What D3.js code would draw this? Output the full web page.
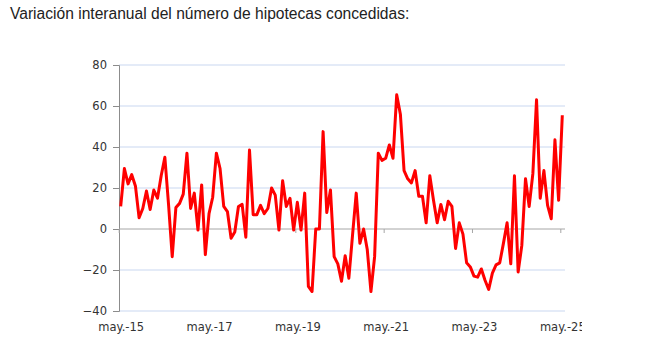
<!DOCTYPE html>
<html>
<head>
<meta charset="utf-8">
<script src="https://cdn.jsdelivr.net/npm/d3@7"></script>
<style>
  body { margin: 0; background: #fff; }
  .title { font-family: "Liberation Sans", Arial, sans-serif; font-size: 15.6px; fill: #222; }
  .tick text { font-family: "DejaVu Sans", Verdana, sans-serif; font-size: 11.5px; fill: #333; }
</style>
</head>
<body>
<svg id="chart" width="660" height="351"></svg>
<script>
// variación interanual (%) mensual, may.-15 .. may.-25
var values = [11, 29.5, 22, 26.5, 21, 5.5, 10, 18.5, 9.5, 19, 15, 26, 35, 12, -13.5, 10.5, 12.5, 17, 37, 10,
  17.5, -0.5, 21.5, -12.5, 7.5, 15.5, 37, 29.5, 11, 8.5, -4.5, -1.5, 11, 12, -4, 38.5, 7, 7, 11.5, 7.5,
  10, 20, 16.5, -0.5, 23.5, 11, 15, -0.5, 13, -0.5, 17.5, -28, -30.5, 0, 0, 47.5, 8, 19, -13.5, -17,
  -25.5, -13, -24, -3, 17.5, -7, 0, -10, -30.5, -13.5, 37, 33.5, 34.5, 41, 34.5, 65.5, 56, 28.5, 24.5, 22.5,
  28.5, 16, 16, 3, 26, 14, 3, 12, 4.5, 13.5, 11, -9.5, 3, -2.5, -16.5, -18.5, -23, -23.5, -19.5, -25,
  -29.5, -21.5, -17.5, -16.5, -7, 3, -17, 26, -21, -8, 24.5, 11, 27, 63, 15, 28.5, 11.5, 5, 43.5, 14, 55.5];
var tickIdx = [0, 24, 48, 72, 96, 120];
var tickLabels = ["may.-15", "may.-17", "may.-19", "may.-21", "may.-23", "may.-25"];
var yTicks = [-40, -20, 0, 20, 40, 60, 80];

var svg = d3.select("#chart");
var pLeft = 119, pRight = 565, pTop = 65, pBottom = 311;

svg.append("text").attr("class", "title")
    .attr("x", 10).attr("y", 19)
    .text("Variación interanual del número de hipotecas concedidas:");

var x = d3.scaleLinear().domain([0, values.length - 1]).range([120.7, 562.3]);
var y = d3.scaleLinear().domain([-40, 80]).range([pBottom, pTop]);

// gridlines
svg.append("g").selectAll("line")
    .data(yTicks.filter(d => d != 0))
    .enter().append("line")
    .attr("x1", pLeft).attr("x2", pRight)
    .attr("y1", d => y(d)).attr("y2", d => y(d))
    .attr("stroke", "#c9d7f0").attr("stroke-width", 1);

// y axis
var yAxis = svg.append("g")
    .attr("transform", "translate(" + pLeft + ",0)")
    .call(d3.axisLeft(y).tickValues(yTicks).tickSize(6).tickPadding(6));
yAxis.select(".domain").attr("stroke", "#8c8c8c");
yAxis.selectAll(".tick line").attr("stroke", "#8c8c8c");

// zero line with ticks
svg.append("line")
    .attr("x1", pLeft).attr("x2", pRight)
    .attr("y1", y(0)).attr("y2", y(0))
    .attr("stroke", "#a6a6a6").attr("stroke-width", 1);
svg.append("g").selectAll("line")
    .data(tickIdx)
    .enter().append("line")
    .attr("x1", d => x(d) - 1.5).attr("x2", d => x(d) - 1.5)
    .attr("y1", y(0)).attr("y2", y(0) + 4)
    .attr("stroke", "#a6a6a6");

// x labels (clipped at right like the original)
svg.append("clipPath").attr("id", "clipx")
    .append("rect").attr("x", 0).attr("y", -400).attr("width", 582).attr("height", 800);
var xl = svg.append("g").attr("clip-path", "url(#clipx)")
    .attr("transform", "translate(0," + pBottom + ")")
    .call(d3.axisBottom(x).tickValues(tickIdx).tickFormat((d, i) => tickLabels[i]).tickSize(0).tickPadding(12));
xl.select(".domain").remove();

// series
var line = d3.line()
    .x((d, i) => x(i))
    .y(d => y(d));
svg.append("path")
    .datum(values)
    .attr("d", line)
    .attr("fill", "none")
    .attr("stroke", "#ff0000")
    .attr("stroke-width", 3)
    .attr("stroke-linejoin", "round");
</script>
</body>
</html>
